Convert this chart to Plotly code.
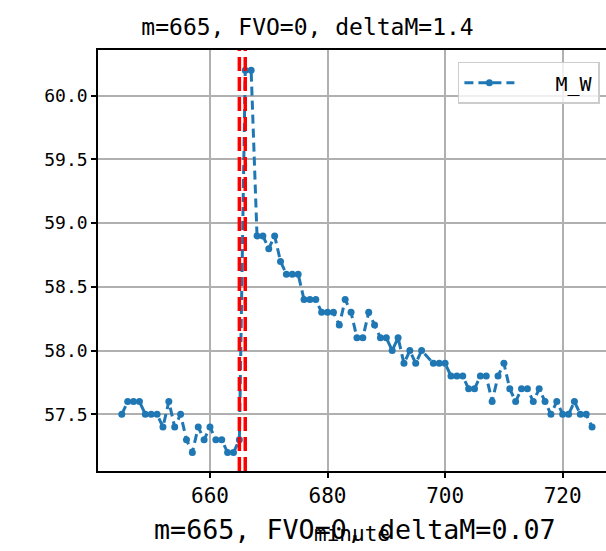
import plotly.graph_objects as go

# ---- data ----
minutes = [645, 646, 647, 648, 649, 650, 651, 652, 653, 654, 655, 656, 657, 658, 659,
           660, 661, 662, 663, 664, 665, 666, 667, 668, 669, 670, 671, 672, 673, 674,
           675, 676, 677, 678, 679, 680, 681, 682, 683, 684, 685, 686, 687, 688, 689,
           690, 691, 692, 693, 694, 695, 696, 698, 699, 700, 701, 702, 703, 704, 705,
           706, 707, 708, 709, 710, 711, 712, 713, 714, 715, 716, 717, 718, 719, 720,
           721, 722, 723, 724, 725]
m_w = [57.5, 57.6, 57.6, 57.6, 57.5, 57.5, 57.5, 57.4, 57.6, 57.4, 57.5, 57.3, 57.2, 57.4, 57.3,
       57.4, 57.3, 57.3, 57.2, 57.2, 57.3, 60.2, 60.2, 58.9, 58.9, 58.8, 58.9, 58.7, 58.6, 58.6,
       58.6, 58.4, 58.4, 58.4, 58.3, 58.3, 58.3, 58.2, 58.4, 58.3, 58.1, 58.1, 58.3, 58.2, 58.1,
       58.1, 58.0, 58.1, 57.9, 58.0, 57.9, 58.0, 57.9, 57.9, 57.9, 57.8, 57.8, 57.8, 57.7, 57.7,
       57.8, 57.8, 57.6, 57.8, 57.9, 57.7, 57.6, 57.7, 57.7, 57.6, 57.7, 57.6, 57.5, 57.6, 57.5,
       57.5, 57.6, 57.5, 57.5, 57.4]
vlines = [665, 666]
x_ticks = [660, 680, 700, 720]
y_ticks = [57.5, 58.0, 58.5, 59.0, 59.5, 60.0]
series_name = "M_W"
title_text = "m=665, FVO=0, deltaM=1.4"
bottom_text = "m=665, FVO=0, deltaM=0.07"
x_label = "minute"

FONT = "DejaVu Sans Mono"
BLUE = "#1f77b4"

fig = go.Figure()
fig.add_trace(go.Scatter(
    x=minutes, y=m_w, mode="lines+markers", name="\u00a0\u00a0\u00a0" + series_name,
    line=dict(color=BLUE, width=3, dash="9px,5px"),
    marker=dict(color=BLUE, size=7),
))

for v in vlines:
    fig.add_shape(type="line", xref="x", yref="paper", x0=v, x1=v, y0=0, y1=1,
                  line=dict(color="red", width=3.5, dash="14px,6px"), layer="above")

fig.update_layout(
    width=606, height=551,
    margin=dict(l=98, r=0, t=50, b=80),
    paper_bgcolor="white", plot_bgcolor="white",
    font=dict(family=FONT, size=20, color="black"),
    title=dict(text=title_text, x=0.5075, xanchor="center", y=1 - 27 / 551, yanchor="middle",
               font=dict(family=FONT, size=23, color="black")),
    showlegend=True,
    legend=dict(x=0.988, y=0.972, xanchor="right", yanchor="top",
                bordercolor="#cccccc", borderwidth=1.5, bgcolor="rgba(255,255,255,0.8)",
                font=dict(family=FONT, size=20, color="black"), itemwidth=50),
    xaxis=dict(range=[640.95, 727.37], tickvals=x_ticks, ticks="outside", ticklen=5,
               tickwidth=1.5, tickcolor="black", showline=True, linecolor="black", linewidth=1.5,
               mirror=True, showgrid=True, gridcolor="#b0b0b0", gridwidth=1.5, zeroline=False,
               tickfont=dict(family=FONT, size=21),
               title=dict(text=x_label, font=dict(family=FONT, size=21), standoff=19)),
    yaxis=dict(range=[57.055, 60.359], tickvals=y_ticks, tickformat=".1f", ticks="outside",
               ticklen=5, tickwidth=1.5, tickcolor="black", showline=True, linecolor="black",
               linewidth=1.5, mirror=False, showgrid=True, gridcolor="#b0b0b0", gridwidth=1.5,
               zeroline=False, tickfont=dict(family=FONT, size=18)),
    annotations=[dict(text=bottom_text, xref="paper", yref="paper", x=0.506, y=-0.14,
                      xanchor="center", yanchor="middle", showarrow=False,
                      font=dict(family=FONT, size=26.7, color="black"))],
)

fig.write_html("out.html", config={"displayModeBar": False},
               post_script="document.body.style.margin='0';")
